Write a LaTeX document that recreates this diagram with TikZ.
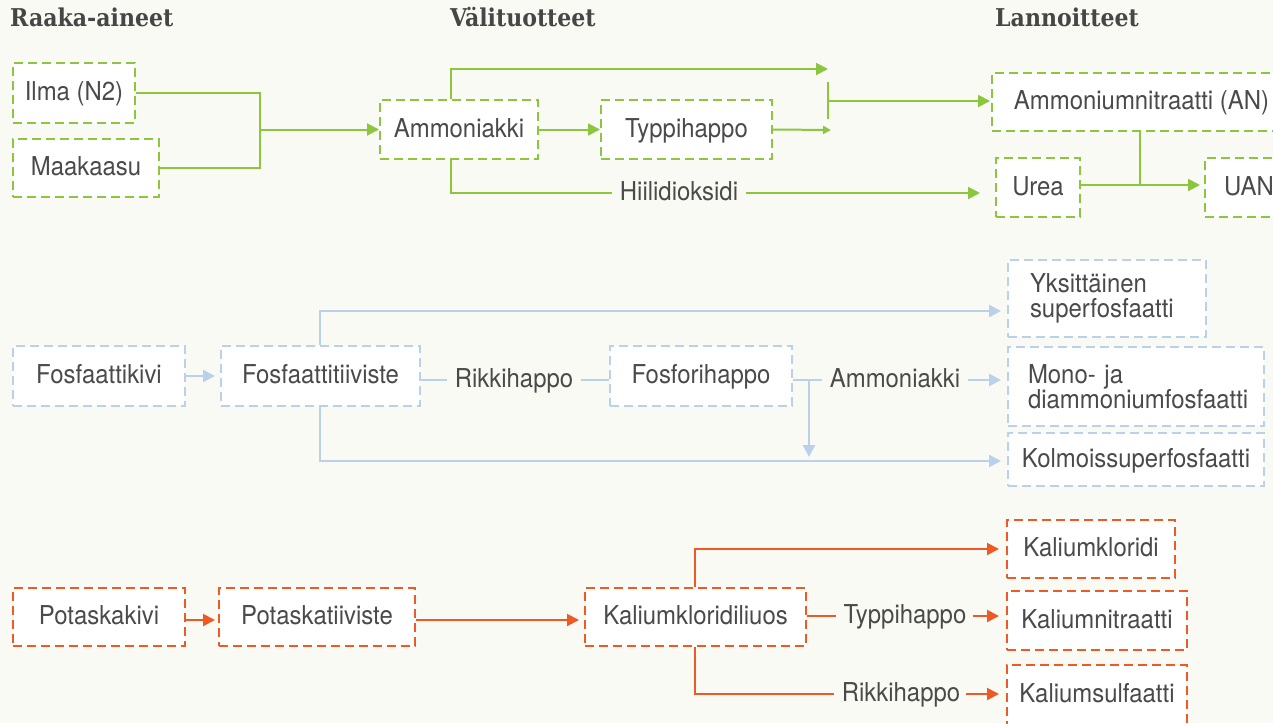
\documentclass[tikz,border=0pt]{standalone}
\usepackage{fontspec}
\setmainfont[FakeStretch=0.92]{TeX Gyre Heros}
\newfontfamily\headfont{DejaVu Serif Condensed}
\usetikzlibrary{arrows.meta}
\definecolor{bgc}{HTML}{FAFAF5}
\definecolor{txt}{HTML}{4A4A4A}
\definecolor{grn}{HTML}{8CC63F}
\definecolor{blu}{HTML}{B9D1EA}
\definecolor{org}{HTML}{EF5A24}
\tikzset{
  x=1pt, y=-1pt,
  every node/.style={text=txt, font=\fontsize{26}{28}\selectfont},
  boxbase/.style={draw, fill=white, line width=2pt, dash pattern=on 9pt off 5pt, inner sep=0pt,
    text height=19pt, text depth=4pt},
  multi/.style={text height=, text depth=, align=left, font=\fontsize{26}{25.5}\selectfont},
  gbox/.style={boxbase, draw=grn},
  bbox/.style={boxbase, draw=blu},
  obox/.style={boxbase, draw=org},
  head/.style={font=\headfont\bfseries\fontsize{24.5}{26}\selectfont, anchor=base west, inner sep=0pt, text=txt!95!black},
  lbl/.style={inner sep=0pt, text height=19pt, text depth=4pt},
  gline/.style={draw=grn, line width=2pt},
  bline/.style={draw=blu, line width=2.5pt},
  oline/.style={draw=org, line width=2pt},
  gar/.style={gline, -{Triangle[length=12pt,width=12pt]}},
  gsm/.style={gline, -{Triangle[length=8pt,width=8pt]}},
  bar/.style={bline, -{Triangle[length=12pt,width=12pt]}},
  oar/.style={oline, -{Triangle[length=12pt,width=12pt]}},
}
\begin{document}
\begin{tikzpicture}
\fill[bgc] (0,0) rectangle (1273,723);
\useasboundingbox (0,0) rectangle (1273,723);

% column headings
\node[head] (h1) at (10,26) {Raaka-aineet};
\node[head] (h2) at (450,26) {Välituotteet};
\node[head] (h3) at (995,26) {Lannoitteet};

% ---------- nitrogen chain ----------
\node[gbox, minimum width=122, minimum height=60] (ilma) at (74,93) {Ilma (N2)};
\node[gbox, minimum width=146, minimum height=58] (maa) at (86,168) {Maakaasu};
\node[gbox, minimum width=158, minimum height=59] (amm) at (459,129.5) {Ammoniakki};
\node[gbox, minimum width=171, minimum height=59] (typ) at (686.5,129.5) {Typpihappo};
\node[gbox, minimum width=299, minimum height=58] (an) at (1141.5,102) {Ammoniumnitraatti (AN)};
\node[gbox, minimum width=84, minimum height=59] (urea) at (1038,187.5) {Urea};
\node[gbox, minimum width=88, minimum height=59] (uan) at (1249,187.5) {UAN};
\node[lbl] (hii) at (679,193) {Hiilidioksidi};

\coordinate (gj) at (260,129.5);
\coordinate (tipA) at (828,69);
\coordinate (tipB) at (831,130);
\coordinate (barT) at (828,82);
\coordinate (barB) at (828,119);
\coordinate (barM) at (828,101);
\coordinate (uj) at (1140,185);

\draw[gline] (ilma.east) -- (260,93) -- (260,168) -- (maa.east);
\draw[gar] (gj) -- (amm.west);
\draw[gar] (amm.north -| 451,0) |- (tipA);
\draw[gar] (amm.east) -- (typ.west);
\draw[gsm] (typ.east) -- (tipB);
\draw[gline] (barT) -- (barB);
\draw[gar, shorten >=1pt] (barM) -- (an.west |- barM);
\draw[gline] (amm.south -| 451,0) |- ([xshift=-8pt]hii.west);
\draw[gar, shorten >=15pt] ([xshift=8pt]hii.east) -- (urea.west |- hii.east);
\draw[gline] (an.south -| uj) -- (uj);
\draw[gar, shorten >=4pt] (urea.east |- uj) -- (uan.west |- uj);

% ---------- phosphorus chain ----------
\node[bbox, minimum width=172, minimum height=60] (fk) at (99,376) {Fosfaattikivi};
\node[bbox, minimum width=199, minimum height=60] (ft) at (320.5,376) {Fosfaattitiiviste};
\node[bbox, minimum width=182, minimum height=60] (fh) at (701,376) {Fosforihappo};
\node[bbox, multi, minimum width=198, minimum height=77, text width=154] (yks) at (1107,298.5) {\raisebox{-3pt}{\parbox{154pt}{Yksittäinen\\superfosfaatti}}};
\node[bbox, multi, minimum width=256, minimum height=79, text width=216] (mono) at (1136,386.5) {\raisebox{-2pt}{\parbox{216pt}{Mono- ja\\diammoniumfosfaatti}}};
\node[bbox, minimum width=256, minimum height=53] (kol) at (1136,459.5) {Kolmoissuperfosfaatti};
\node[lbl] (rik) at (514,380) {Rikkihappo};
\node[lbl] (amb) at (895,380) {Ammoniakki};

\coordinate (pj) at (809,380);
\coordinate (pjt) at (809,457);

\draw[bar, shorten >=5pt] (fk.east) -- (ft.west);
\draw[bar, shorten >=6pt] (ft.north -| 320,0) |- (yks.west |- 0,311);
\draw[bline] (ft.east |- rik) -- ([xshift=-8pt]rik.west);
\draw[bline] ([xshift=8pt]rik.east) -- (fh.west |- rik);
\draw[bline] (fh.east |- amb) -- ([xshift=-8pt]amb.west);
\draw[bar, shorten >=6pt] ([xshift=8pt]amb.east) -- (mono.west |- amb);
\draw[bar] (pj) -- (pjt);
\draw[bar, shorten >=6pt] (ft.south -| 320,0) |- (kol.west |- 0,461);

% ---------- potassium chain ----------
\node[obox, minimum width=172, minimum height=58] (pk) at (99,616.5) {Potaskakivi};
\node[obox, minimum width=196, minimum height=58] (pt) at (317,616.5) {Potaskatiiviste};
\node[obox, minimum width=221, minimum height=58] (kcl) at (695.5,616.5) {Kaliumkloridiliuos};
\node[obox, minimum width=168, minimum height=58] (kk) at (1091,549) {Kaliumkloridi};
\node[obox, minimum width=180, minimum height=59] (kn) at (1097,620.5) {Kaliumnitraatti};
\node[obox, minimum width=180, minimum height=60] (ks) at (1097,695) {Kaliumsulfaatti};
\node[lbl] (typ2) at (905,616) {Typpihappo};
\node[lbl] (rik2) at (901,694) {Rikkihappo};

\draw[oar, shorten >=3pt] (pk.east |- 0,620) -- (pt.west |- 0,620);
\draw[oar, shorten >=5pt] (pt.east |- 0,620) -- (kcl.west |- 0,620);
\draw[oar, shorten >=7pt] (kcl.north -| 695,0) |- (kk.west);
\draw[oline] (kcl.east |- typ2) -- ([xshift=-8pt]typ2.west);
\draw[oar, shorten >=7pt] ([xshift=6pt]typ2.east) -- (kn.west |- typ2);
\draw[oline] (kcl.south -| 695,0) |- ([xshift=-8pt]rik2.west);
\draw[oar, shorten >=7pt] ([xshift=6pt]rik2.east) -- (ks.west |- rik2);
\end{tikzpicture}
\end{document}
